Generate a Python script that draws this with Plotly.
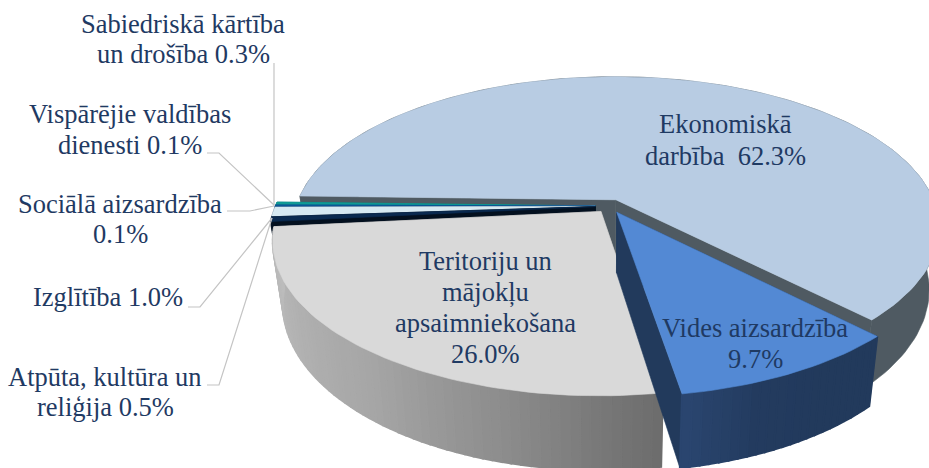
import math
import plotly.graph_objects as go

# ---- data ----
categories = ["Ekonomiskā darbība", "Vides aizsardzība", "Teritoriju un mājokļu apsaimniekošana",
              "Atpūta, kultūra un reliģija", "Izglītība", "Sociālā aizsardzība",
              "Vispārējie valdības dienesti", "Sabiedriskā kārtība un drošība"]
values = [62.3, 9.7, 26.0, 0.5, 1.0, 0.1, 0.1, 0.3]
label_lines = [["Ekonomiskā", "darbība\u00a0\u00a0{}%"], ["Vides aizsardzība", "{}%"],
               ["Teritoriju un", "mājokļu", "apsaimniekošana", "{}%"],
               ["Atpūta, kultūra un", "reliģija {}%"], ["Izglītība {}%"], ["Sociālā aizsardzība", "{}%"],
               ["Vispārējie valdības", "dienesti {}%"], ["Sabiedriskā kārtība", "un drošība {}%"]]

# ---- styles ----
top_colors = ["#b8cce3", "#5389d4", "#d9d9d9", "#0a2a50", "#d6e9f2", "#0c5da0", "#0c5da0", "#0f9b96"]
wall_stops = [["#4f5a62"], ["#223a5c", "#223a5c", "#233b5f", "#2a4670"],
              ["#6c6c6c", "#8c8c8c", "#a6a6a6", "#b2b2b2", "#bcbcbc"],
              ["#041224"], ["#0b2a4c"], ["#0f4f80"], ["#0f4f80"], ["#137a76"]]
face_colors = ["#4f5a62", "#223a5c", "#8c8c8c", "#03101f", "#0b2a4c", "#0f4f80", "#0f4f80", "#137a76"]
text_color = "#1f3a63"
leader_color = "#c4c4c4"
font_family = "Liberation Serif"
font_px = 26.5
W, H = 929, 468
label_x = [725, 755, 485, 105, 108, 120, 130, 183]
label_first_y = [124, 328, 261, 377, 297, 204, 114, 24]
label_line_gap = [32, 31, 31, 30, 30, 30, 31, 30]
leaders = [[(188, 307), (200, 307), (272, 218)], [(207, 385), (219, 385), (272, 218)],
           [(227, 211), (250, 211), (274, 206)], [(207, 153), (219, 153), (274, 205)],
           [(274, 63), (274, 206)]]

# ---- projection parameters ----
CX, CY = 610, 206
R, RY = 320, 148
PERSP, SHRINK = 0.185, 0.03
DEPTH = 60
EXPLODE = 0.046
START_DEG = 178.5
draw_order = [0, 7, 6, 5, 4, 3, 2, 1]


def proj(x, y, dz=0.0):
    s = 1 / (1 + PERSP * y)
    return CX + R * x * s * (1 - SHRINK * dz), CY - RY * y * s + DEPTH * dz * s


def hex2rgb(c):
    return tuple(int(c[i:i + 2], 16) for i in (1, 3, 5))


def mix(stops, t):
    if len(stops) == 1:
        return stops[0]
    f = t * (len(stops) - 1)
    i = min(int(f), len(stops) - 2)
    a, b = hex2rgb(stops[i]), hex2rgb(stops[i + 1])
    u = f - i
    return "rgb({},{},{})".format(*[round(a[k] + (b[k] - a[k]) * u) for k in range(3)])


def poly(fig, pts, color, lw=0.6):
    xs, ys = zip(*pts)
    fig.add_trace(go.Scatter(x=list(xs) + [xs[0]], y=list(ys) + [ys[0]], mode="lines", fill="toself",
                             fillcolor=color, line=dict(color=color, width=lw),
                             hoverinfo="skip", showlegend=False))


total = sum(values)
spans, a = [], START_DEG
for v in values:
    b = a - v / total * 360
    spans.append((a, b))
    a = b

fig = go.Figure()
for idx in draw_order:
    a0, a1 = spans[idx]
    mid = math.radians((a0 + a1) / 2)
    ox, oy = EXPLODE * math.cos(mid), EXPLODE * math.sin(mid)
    n = max(3, int(abs(a1 - a0) / 1.5))
    ang = [math.radians(a0 + (a1 - a0) * i / n) for i in range(n + 1)]
    rim = [(ox + math.cos(t), oy + math.sin(t)) for t in ang]
    # cut faces
    for px, py in (rim[0], rim[-1]):
        poly(fig, [proj(ox, oy), proj(px, py), proj(px, py, 1), proj(ox, oy, 1)], face_colors[idx])
    # outer wall
    stops = wall_stops[idx]
    if len(stops) == 1:
        poly(fig, [proj(*p) for p in rim] + [proj(*p, 1) for p in reversed(rim)], stops[0])
    else:
        for i in range(n):
            poly(fig, [proj(*rim[i]), proj(*rim[i + 1]), proj(*rim[i + 1], 1), proj(*rim[i], 1)],
                 mix(stops, (i + 0.5) / n), lw=2)
    # top surface
    poly(fig, [proj(ox, oy)] + [proj(*p) for p in rim], top_colors[idx])

for seg in leaders:
    fig.add_trace(go.Scatter(x=[p[0] for p in seg], y=[p[1] for p in seg], mode="lines",
                             line=dict(color=leader_color, width=1.2), hoverinfo="skip", showlegend=False))

annotations = []
for lines, x0, y0, gap, v in zip(label_lines, label_x, label_first_y, label_line_gap, values):
    for k, line in enumerate(lines):
        annotations.append(dict(x=x0, y=y0 + k * gap, xref="x", yref="y", text=line.format(f"{v:.1f}"),
                                showarrow=False, xanchor="center", yanchor="middle",
                                font=dict(family=font_family, size=font_px, color=text_color)))

fig.update_layout(width=W, height=H, margin=dict(l=0, r=0, t=0, b=0), paper_bgcolor="white",
                  plot_bgcolor="white", showlegend=False, annotations=annotations,
                  xaxis=dict(range=[0, W], visible=False, fixedrange=True),
                  yaxis=dict(range=[H, 0], visible=False, fixedrange=True))
fig.write_html("out.html", post_script="document.body.style.margin='0';document.body.style.overflow='hidden';",
               config=dict(displayModeBar=False))
